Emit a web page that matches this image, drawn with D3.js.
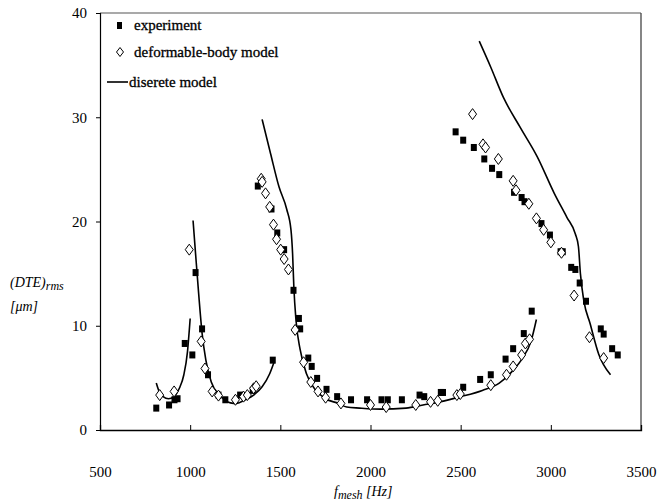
<!DOCTYPE html>
<html>
<head>
<meta charset="utf-8">
<script src="https://cdn.jsdelivr.net/npm/d3@7"></script>
<style>
  body { margin: 0; background: #fff; }
  text { font-family: "Liberation Serif", "DejaVu Serif", serif; fill: #000; }
</style>
</head>
<body>
<div id="chart"></div>
<script>
const width = 663, height = 504;

// axis ticks
const xTicks = [500, 1000, 1500, 2000, 2500, 3000, 3500];
const yTicks = [0, 10, 20, 30, 40];

// experiment (filled squares): [f_mesh Hz, DTE rms um]
const experiment = [
  [812, 2.1], [883, 2.4], [913, 2.9], [930, 3.0], [970, 8.3], [1012, 7.2], [1030, 15.1],
  [1066, 9.7], [1099, 5.3], [1157, 3.35], [1195, 2.9], [1277, 3.35], [1347, 3.8], [1458, 6.7],
  [1375, 23.4], [1451, 21.2], [1483, 18.9], [1521, 17.3], [1573, 13.4], [1603, 10.7], [1610, 9.7],
  [1655, 6.9], [1674, 6.1], [1704, 4.95], [1756, 3.9], [1815, 3.2], [1892, 2.9], [1981, 2.9],
  [2061, 2.9], [2096, 2.9], [2174, 2.9], [2272, 3.35], [2298, 3.2], [2390, 3.6], [2402, 3.6],
  [2514, 4.1], [2608, 4.85], [2667, 5.3], [2749, 6.8], [2791, 7.8], [2850, 9.25], [2894, 11.4],
  [2472, 28.6], [2514, 27.8], [2573, 27.1], [2631, 26.0], [2674, 25.1], [2714, 24.5],
  [2796, 22.8], [2838, 22.3], [2854, 21.9], [2948, 19.8], [2995, 18.7], [3054, 17.1],
  [3066, 17.1], [3113, 15.6], [3136, 15.4], [3160, 14.1], [3195, 12.35], [3277, 9.7],
  [3293, 9.2], [3340, 7.8], [3371, 7.2]
];

// deformable-body model (open diamonds)
const deformable = [
  [831, 3.35], [911, 3.7], [995, 17.3], [1061, 8.5], [1082, 5.9], [1122, 3.7], [1157, 3.3],
  [1251, 2.9], [1296, 3.2], [1317, 3.35], [1352, 4.0], [1366, 4.2],
  [1394, 24.1], [1399, 23.8], [1418, 22.7], [1441, 21.4], [1462, 19.7], [1479, 18.3],
  [1502, 17.3], [1521, 16.4], [1545, 15.4], [1582, 9.6], [1629, 6.5], [1669, 4.6],
  [1709, 3.7], [1751, 3.1], [1836, 2.55], [2000, 2.4], [2087, 2.2], [2251, 2.4],
  [2333, 2.7], [2373, 2.8], [2479, 3.35], [2498, 3.45], [2667, 4.3], [2754, 5.3],
  [2791, 6.1], [2838, 7.2], [2859, 8.3], [2882, 8.7],
  [2566, 30.3], [2624, 27.4], [2638, 27.1], [2709, 26.0], [2791, 23.9], [2807, 23.0],
  [2878, 21.7], [2920, 20.3], [2960, 19.2], [3000, 18.0], [3059, 17.0], [3129, 12.9],
  [3214, 8.9], [3293, 6.9]
];

// discrete model (solid line, four branches)
const discreteA = [[812, 4.5], [830, 3.6], [850, 3.2], [880, 3.0], [910, 3.2], [940, 4.0],
  [965, 5.3], [985, 7.5], [1000, 10.7]];
const discreteB = [[1016, 20.1], [1030, 16.9], [1047, 13.1], [1066, 9.3], [1087, 6.7],
  [1117, 4.6], [1164, 3.35], [1223, 2.6], [1258, 2.55], [1305, 2.9], [1352, 3.35],
  [1399, 4.15], [1441, 5.4], [1465, 6.5]];
const discreteC = [[1399, 29.8], [1446, 26.5], [1493, 23.3], [1535, 21.2], [1559, 19.2],
  [1568, 16.9], [1575, 13.7], [1587, 10.5], [1610, 7.7], [1645, 5.4], [1692, 3.9],
  [1751, 3.0], [1822, 2.55], [1868, 2.2], [1939, 2.1], [2056, 2.0], [2197, 2.1],
  [2291, 2.4], [2385, 2.7], [2502, 3.2], [2620, 3.8], [2714, 4.5], [2784, 5.6],
  [2843, 6.9], [2890, 8.5], [2920, 10.6]];
const discreteD = [[2603, 37.3], [2667, 34.8], [2737, 31.9], [2831, 29.0], [2925, 26.2],
  [3019, 22.7], [3089, 20.4], [3136, 18.8], [3153, 17.6], [3164, 15.0], [3183, 12.4],
  [3218, 10.2], [3265, 7.3], [3331, 5.3]];
const discrete = [discreteA, discreteB, discreteC, discreteD];

const margin = { left: 100, right: 22, top: 13, bottom: 74 };

const svg = d3.select("#chart").append("svg")
  .attr("width", width).attr("height", height);

const x = d3.scaleLinear().domain([500, 3500]).range([margin.left, width - margin.right]);
const y = d3.scaleLinear().domain([0, 40]).range([height - margin.bottom, margin.top]);

// frame: top and right a bit lighter
svg.append("line").attr("x1", x(500)).attr("x2", x(3500)).attr("y1", y(40)).attr("y2", y(40))
  .attr("stroke", "#555").attr("stroke-width", 1.2);
svg.append("line").attr("x1", x(3500)).attr("x2", x(3500)).attr("y1", y(40)).attr("y2", y(0))
  .attr("stroke", "#444").attr("stroke-width", 1.3);

// x axis
const xAxis = svg.append("g").attr("transform", `translate(0,${y(0)})`)
  .call(d3.axisBottom(x).tickValues(xTicks).tickSize(-5).tickPadding(36).tickFormat(d3.format("d")));
xAxis.select(".domain").attr("stroke", "#000").attr("stroke-width", 1.3);
xAxis.selectAll(".tick line").attr("stroke", "#000");
xAxis.selectAll(".tick text").attr("font-family", "Liberation Serif").attr("font-size", 15);

// y axis
const yAxis = svg.append("g").attr("transform", `translate(${x(500)},0)`)
  .call(d3.axisLeft(y).tickValues(yTicks).tickSize(4).tickPadding(9));
yAxis.select(".domain").attr("stroke", "#000").attr("stroke-width", 1.2);
yAxis.selectAll(".tick line").attr("stroke", "#000");
yAxis.selectAll(".tick text").attr("font-family", "Liberation Serif").attr("font-size", 15);
yAxis.selectAll(".tick").filter(d => d === 0 || d === 40).select("line").remove();

// discrete model lines
const line = d3.line().x(d => x(d[0])).y(d => y(d[1])).curve(d3.curveMonotoneX);
svg.selectAll(".disc").data(discrete).join("path")
  .attr("class", "disc")
  .attr("d", line)
  .attr("fill", "none").attr("stroke", "#000").attr("stroke-width", 1.6);

// marker shapes
const diamond = (cx, cy) => `M${cx},${cy - 5.5}L${cx + 4},${cy}L${cx},${cy + 5.5}L${cx - 4},${cy}Z`;

svg.selectAll(".exp").data(experiment).join("rect")
  .attr("class", "exp")
  .attr("x", d => x(d[0]) - 3).attr("y", d => y(d[1]) - 3.5)
  .attr("width", 6).attr("height", 7).attr("fill", "#000");

svg.selectAll(".def").data(deformable).join("path")
  .attr("class", "def")
  .attr("d", d => diamond(x(d[0]), y(d[1])))
  .attr("fill", "#fff").attr("stroke", "#000").attr("stroke-width", 1);

// legend
const lg = svg.append("g").attr("font-size", 15);
lg.append("rect").attr("x", 117).attr("y", 22).attr("width", 5).attr("height", 7).attr("fill", "#000");
lg.append("text").attr("x", 134).attr("y", 30).attr("stroke", "#000").attr("stroke-width", 0.3).text("experiment");
lg.append("path").attr("d", `M120,47.5L123.5,52L120,56.5L116.5,52Z`).attr("fill", "#fff").attr("stroke", "#000");
lg.append("text").attr("x", 134).attr("y", 57).attr("stroke", "#000").attr("stroke-width", 0.3).text("deformable-body model");
lg.append("line").attr("x1", 107).attr("x2", 128).attr("y1", 82).attr("y2", 82).attr("stroke", "#000").attr("stroke-width", 1.6);
lg.append("text").attr("x", 129).attr("y", 87).attr("stroke", "#000").attr("stroke-width", 0.3).text("diserete model");

// y axis label
const yl = svg.append("text").attr("x", 10).attr("y", 287).attr("font-size", 14).attr("font-style", "italic");
yl.append("tspan").text("(DTE)");
yl.append("tspan").attr("dy", 3).attr("font-size", 12).text("rms");
svg.append("text").attr("x", 10).attr("y", 311).attr("font-size", 14).attr("font-style", "italic").text("[μm]");

// x axis label
const xl = svg.append("text").attr("x", 334).attr("y", 496).attr("font-size", 14).attr("font-style", "italic");
xl.append("tspan").text("f");
xl.append("tspan").attr("dy", 3).attr("font-size", 12).text("mesh");
xl.append("tspan").attr("dy", -3).text(" [Hz]");
</script>
</body>
</html>
